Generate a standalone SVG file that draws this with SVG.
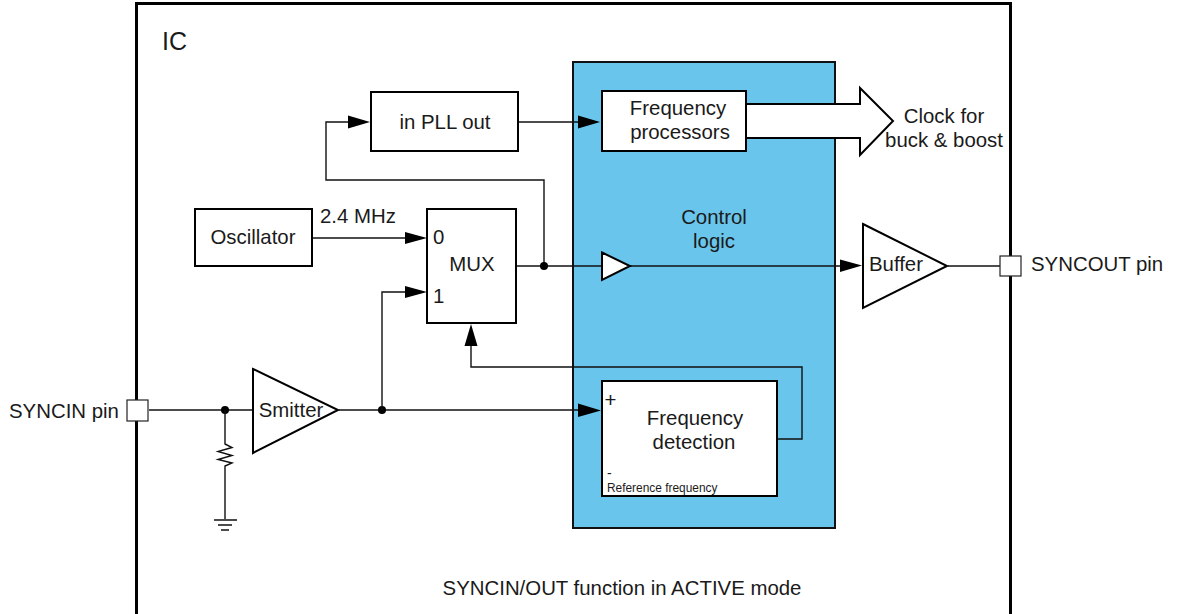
<svg xmlns="http://www.w3.org/2000/svg" width="1179" height="614" viewBox="0 0 1179 614">
<style>
text{font-family:"Liberation Sans",Arial,sans-serif;font-size:20.400px;fill:#1a1a1a;text-anchor:middle}
.b{fill:#fff;stroke:#000;stroke-width:2}
.p{fill:#fff;stroke:#222;stroke-width:1.200}
.w{fill:none;stroke:#111;stroke-width:1.400}
.a{fill:#000;stroke:none}
.l{text-anchor:start}
</style>
<rect width="1179" height="614" fill="#fff"/>
<g id="ic"><path d="M136.500 614V3.500H1010.500V614" fill="none" stroke="#000" stroke-width="3"/><text class="l" x="162" y="50" style="font-size:25px">IC</text></g>
<g id="control-logic"><rect x="573" y="62" width="262" height="466" fill="#69c5ec" stroke="#111" stroke-width="2"/><text x="714" y="224">Control</text><text x="714" y="248">logic</text></g>
<g id="connectors">
<path class="w" d="M518 122H584"/><path class="a" d="M578 115.500L600 122L578 128.500Z"/>
<path class="w" d="M313 238H414"/><path class="a" d="M405 232L427 238L405 244Z"/>
<path class="w" d="M517 266H602"/>
<path class="w" d="M544 266V180H326V122H350"/><path class="a" d="M348 115.500L370 122L348 128.500Z"/>
<circle cx="544" cy="266" r="4" fill="#000"/>
<path class="w" d="M630 266H845"/><path class="a" d="M840 259.500L862 265.500L840 272Z"/>
<path class="w" d="M948 266H1000"/>
<path class="w" d="M149 410H253"/><circle cx="225" cy="410" r="4" fill="#000"/>
<path class="w" d="M225 410V444L232 447.500L218 451.500L232 455.500L218 459.500L232 463L225 466V519M214 520H237M218 525H232M221 530H229"/>
<path class="w" d="M339 410H585"/><path class="a" d="M578 403.500L601 410.500L578 417Z"/><circle cx="382" cy="410" r="4" fill="#000"/>
<path class="w" d="M382 410V292H410"/><path class="a" d="M405 286L427 292L405 298Z"/>
<path class="w" d="M777 439H802V367H471V340"/><path class="a" d="M464.500 346L471 324L477.500 346Z"/>
</g>
<g id="in-pll-out"><rect class="b" x="371" y="92" width="147" height="59"/><text x="445" y="129">in PLL out</text></g>
<g id="clock-arrow"><path class="b" d="M746 104H860V88L893 121L860 155V138H746Z"/><text x="944" y="123">Clock for</text><text x="944" y="147">buck &amp; boost</text></g>
<g id="frequency-processors"><rect class="b" x="602" y="91" width="144" height="60"/><text x="678" y="115">Frequency</text><text x="680" y="139">processors</text></g>
<g id="oscillator"><rect class="b" x="195" y="209" width="117" height="57"/><text x="253" y="244">Oscillator</text></g>
<text class="l" x="320" y="223">2.4 MHz</text>
<g id="mux"><rect class="b" x="427" y="209" width="89" height="114"/><text class="l" x="433" y="244">0</text><text x="472" y="271">MUX</text><text class="l" x="433" y="303">1</text></g>
<g id="control-buffer"><path class="b" d="M602 252.500L630 266L602 280Z"/></g>
<g id="buffer"><path class="b" d="M863 224L947 266L863 308Z"/><text x="896" y="271">Buffer</text></g>
<g id="syncout-pin"><rect class="p" x="1000" y="256" width="21" height="20"/><text class="l" x="1031" y="271">SYNCOUT pin</text></g>
<g id="syncin-pin"><rect class="p" x="127" y="400" width="21" height="21"/><text class="l" x="9" y="418">SYNCIN pin</text></g>
<g id="smitter"><path class="b" d="M253 369L338 410L253 453Z"/><text x="291" y="417">Smitter</text></g>
<g id="frequency-detection"><rect class="b" x="602" y="381" width="175" height="115"/><text x="695" y="425">Frequency</text><text x="694" y="449">detection</text><text class="l" x="604.500" y="407">+</text><text class="l" x="607" y="478" style="font-size:14px">-</text><text class="l" x="607" y="492" style="font-size:11.900px">Reference frequency</text></g>
<text x="622" y="595">SYNCIN/OUT function in ACTIVE mode</text>
</svg>
